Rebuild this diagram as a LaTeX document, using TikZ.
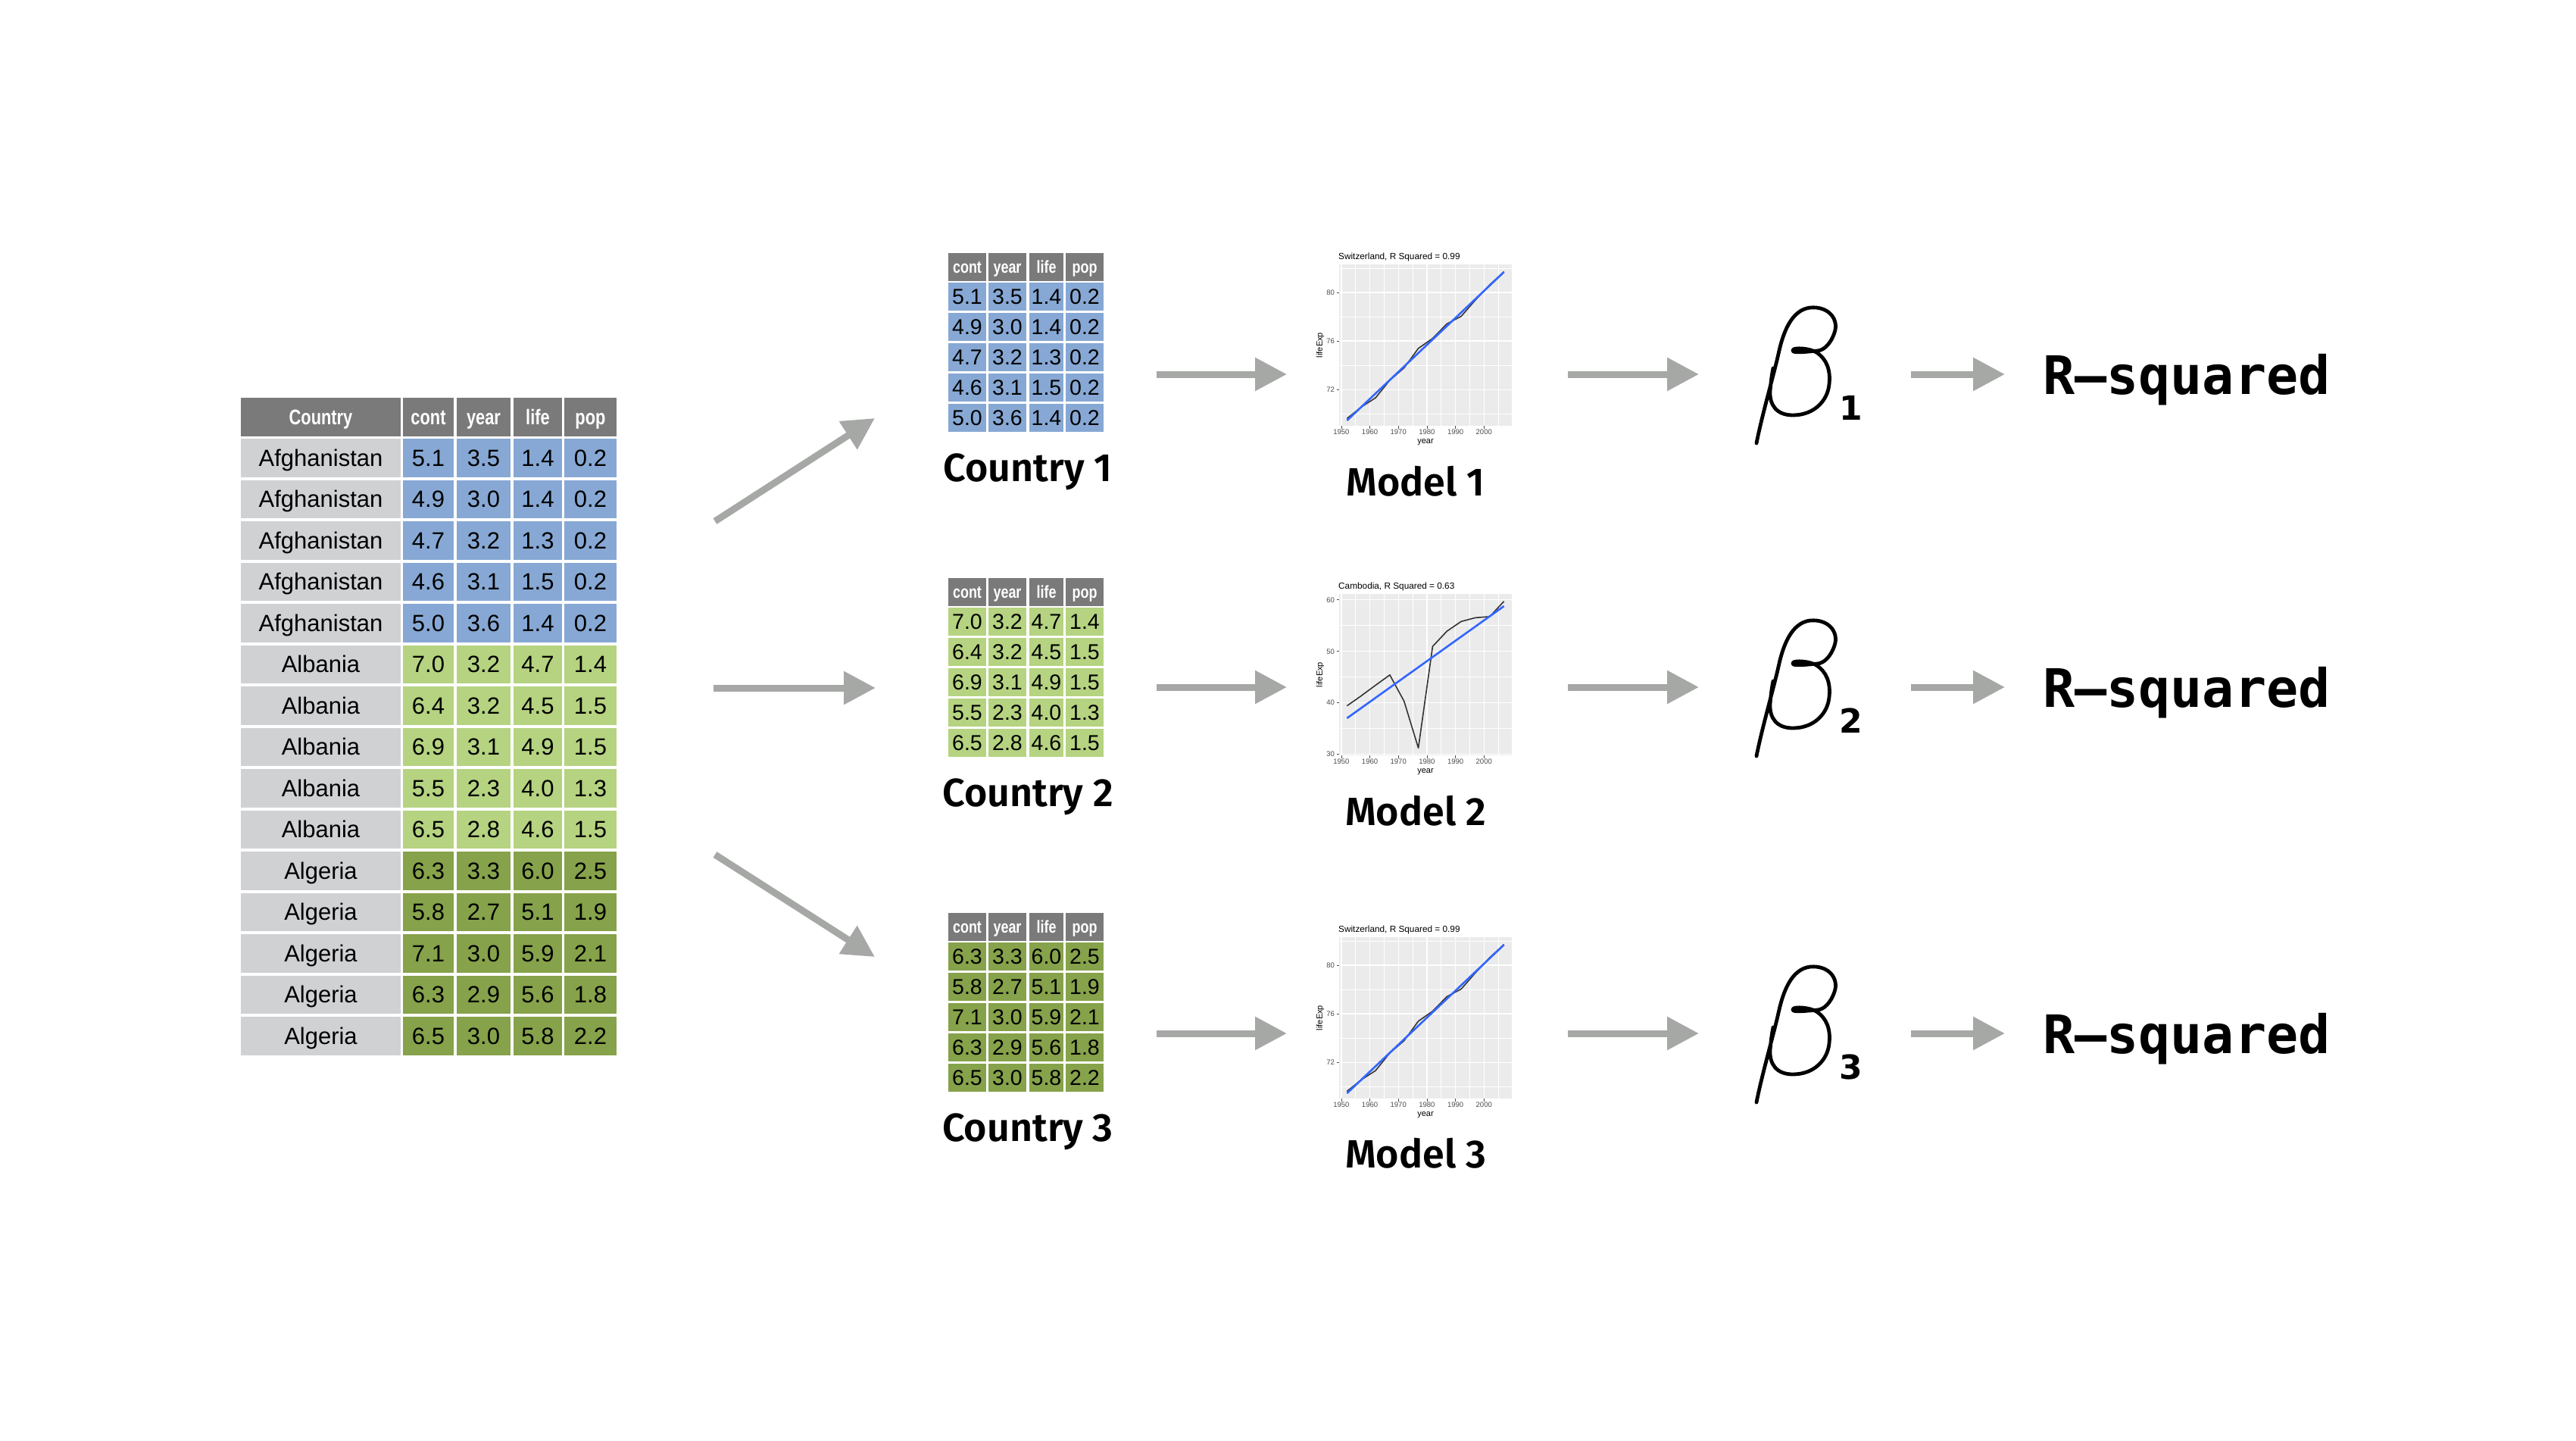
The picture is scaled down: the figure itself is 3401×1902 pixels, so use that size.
\documentclass[tikz,border=0pt]{standalone}
\usepackage{fontspec}
\setmainfont{Liberation Sans}
\newfontfamily\hdrfont[FakeStretch=0.78]{Liberation Sans}
\IfFontExistsTF{Fira Sans SemiBold}
  {\newfontfamily\labfont{Fira Sans SemiBold}}
  {\newfontfamily\labfontbase{Fira Sans}\newcommand\labfont{\labfontbase\bfseries}}
\newfontfamily\monofont{DejaVu Sans Mono}
\newfontfamily\subfont{DejaVu Sans}
\usetikzlibrary{arrows.meta}

\definecolor{hdrgray}{RGB}{122,122,122}
\definecolor{namegray}{RGB}{208,209,211}
\definecolor{cblue}{RGB}{135,168,212}
\definecolor{clgreen}{RGB}{181,211,128}
\definecolor{cdgreen}{RGB}{134,162,74}
\definecolor{arrowgray}{RGB}{166,168,166}
\definecolor{panelbg}{RGB}{235,235,235}
\definecolor{fitblue}{RGB}{51,102,255}
\definecolor{ticktext}{RGB}{77,77,77}

\newcommand\setfs[1]{\fontsize{#1pt}{#1pt}\selectfont}

\tikzset{
  bighdr/.style={fill=hdrgray, text=white, inner sep=0pt, minimum height=51pt,
    text height=20pt, text depth=0pt, font=\hdrfont\bfseries\setfs{28}},
  namecell/.style={fill=namegray, inner sep=0pt, minimum width=211pt, minimum height=50.5pt,
    text height=22pt, text depth=0pt, font=\setfs{31}},
  bigcell/.style={inner sep=0pt, minimum height=50.5pt,
    text height=22pt, text depth=0pt, font=\setfs{31}},
  smallhdr/.style={fill=hdrgray, text=white, inner sep=0pt, minimum height=37pt,
    text height=16pt, text depth=0pt, font=\hdrfont\bfseries\setfs{23}},
  smallcell/.style={inner sep=0pt, minimum height=37pt,
    text height=20.4pt, text depth=0pt, font=\setfs{28.5}},
  steplabel/.style={anchor=base, inner sep=0pt, font=\labfont\setfs{52}},
  bigarrow/.style={draw=arrowgray, line width=9pt, -{Triangle[length=42pt,width=42pt]}},
  majorgrid/.style={draw=white, line width=1.3pt},
  minorgrid/.style={draw=white, line width=0.6pt},
  axtick/.style={draw=ticktext, line width=0.6pt},
  ticklab/.style={inner sep=0pt, text=ticktext, font=\setfs{9.5}},
  axtitle/.style={inner sep=0pt, font=\setfs{11}},
  plottitle/.style={inner sep=0pt, anchor=base west, font=\setfs{11.8}},
  dataline/.style={draw=black!80, line width=1.6pt, line join=round},
  fitline/.style={draw=fitblue, line width=2.6pt},
  betastroke/.style={draw=black, line width=4.8pt, line cap=round, line join=round},
  rsq/.style={anchor=base west, inner sep=0pt, font=\monofont\bfseries\setfs{70}},
  subnum/.style={anchor=base west, inner sep=0pt, font=\subfont\bfseries\setfs{44}}
}

% one country table: #1 top edge, #2 fill colour, #3 rows, #4 name prefix, #5 caption
\newcommand\smalltab[5]{%
  \node[smallhdr, minimum width=50pt] (#4h1) at (1277,#1+18.5) {cont};
  \node[smallhdr, minimum width=50pt] (#4h2) at (1330,#1+18.5) {year};
  \node[smallhdr, minimum width=45pt] (#4h3) at (1381.5,#1+18.5) {life};
  \node[smallhdr, minimum width=50pt] (#4h4) at (1432,#1+18.5) {pop};
  \foreach \a/\b/\c/\d [count=\i] in {#3} {
    \pgfmathsetmacro{\yc}{#1+57.5+40*(\i-1)}
    \node[smallcell, fill=#2, minimum width=50pt] (#4r\i-a) at (1277,\yc) {\a};
    \node[smallcell, fill=#2, minimum width=50pt] (#4r\i-b) at (1330,\yc) {\b};
    \node[smallcell, fill=#2, minimum width=45pt] (#4r\i-c) at (1381.5,\yc) {\c};
    \node[smallcell, fill=#2, minimum width=50pt] (#4r\i-d) at (1432,\yc) {\d};
  }
  \node[steplabel] (#4cap) at (1357,#1+301) {#5};
}

% one ggplot-style panel: #1 top, #2 ymin, #3 ymax, #4 y unit, #5 major y, #6 minor y,
% #7 name prefix, #8 title, #9 curves drawn in data coordinates
\newcommand\gplot[9]{%
  \node[plottitle] (#7title) at (1767,#1-7) {#8};
  \node[axtitle, rotate=90] (#7ylab) at (1743,#1+106.5) {lifeExp};
  \node[axtitle] (#7xlab) at (1882,#1+235) {year};
  \begin{scope}[shift={(1768,#1+213)}, x=3.7686pt, y=#4pt]
  \begin{scope}[shift={(-1949.25,-#2)}]
    \fill[panelbg] (1949.25,#2) rectangle (2009.75,#3);
    \foreach \g in {1955,1965,...,2005} \draw[minorgrid] (\g,#2) -- (\g,#3);
    \foreach \g in {#6} \draw[minorgrid] (1949.25,\g) -- (2009.75,\g);
    \foreach \g in {1950,1960,...,2000} {
      \draw[majorgrid] (\g,#2) -- (\g,#3);
      \draw[axtick] (\g,#2) -- ++(0pt,-3.5pt);
      \node[ticklab, anchor=north] (#7x\g) at ([yshift=-5pt]\g,#2) {\g};
    }
    \foreach \g in {#5} {
      \draw[majorgrid] (1949.25,\g) -- (2009.75,\g);
      \draw[axtick] (1949.25,\g) -- ++(-3.5pt,0pt);
      \node[ticklab, anchor=east] (#7y\g) at ([xshift=-6pt]1949.25,\g) {\g};
    }
    #9
  \end{scope}
  \end{scope}
}

% handwritten beta with its subscript, placed around (#1,#2)
\newcommand\betasym[3]{%
  \begin{scope}[shift={(#1,#2)}]
    \draw[betastroke] (-51,91) .. controls (-44,55) and (-28,0) .. (-22,-27)
      .. controls (-16,-55) and (-5,-85) .. (20,-88)
      .. controls (45,-90) and (58,-72) .. (52,-55)
      .. controls (47,-40) and (38,-32) .. (30,-31)
      .. controls (15,-30) and (-5,-27) .. (-3,-32)
      .. controls (-1,-36) and (20,-34) .. (28,-29)
      .. controls (42,-20) and (47,-5) .. (45,13)
      .. controls (43,35) and (25,54) .. (-3,54)
      .. controls (-25,54) and (-34,40) .. (-33,22)
      .. controls (-32,10) and (-31,2) .. (-29,-8);
    \node[subnum] (beta#3) at (58,60) {#3};
  \end{scope}
}

\begin{document}
\begin{tikzpicture}[x=1pt, y=-1pt]
\useasboundingbox (0,0) rectangle (3401,1902);
\fill[white] (0,0) rectangle (3401,1902);

% ---- full data table ----
\node[bighdr, minimum width=211pt] (bh0) at (423.5,550.5) {Country};
\node[bighdr, minimum width=67pt] (bh1) at (565.5,550.5) {cont};
\node[bighdr, minimum width=71pt] (bh2) at (638.5,550.5) {year};
\node[bighdr, minimum width=64pt] (bh3) at (710,550.5) {life};
\node[bighdr, minimum width=69pt] (bh4) at (779.5,550.5) {pop};
\foreach \nm/\a/\b/\c/\d/\clr [count=\i] in {
  Afghanistan/5.1/3.5/1.4/0.2/cblue, Afghanistan/4.9/3.0/1.4/0.2/cblue,
  Afghanistan/4.7/3.2/1.3/0.2/cblue, Afghanistan/4.6/3.1/1.5/0.2/cblue,
  Afghanistan/5.0/3.6/1.4/0.2/cblue,
  Albania/7.0/3.2/4.7/1.4/clgreen, Albania/6.4/3.2/4.5/1.5/clgreen,
  Albania/6.9/3.1/4.9/1.5/clgreen, Albania/5.5/2.3/4.0/1.3/clgreen,
  Albania/6.5/2.8/4.6/1.5/clgreen,
  Algeria/6.3/3.3/6.0/2.5/cdgreen, Algeria/5.8/2.7/5.1/1.9/cdgreen,
  Algeria/7.1/3.0/5.9/2.1/cdgreen, Algeria/6.3/2.9/5.6/1.8/cdgreen,
  Algeria/6.5/3.0/5.8/2.2/cdgreen} {
  \pgfmathsetmacro{\yc}{579+54.5*(\i-1)+25.25}
  \node[namecell] (bn\i) at (423.5,\yc) {\nm};
  \node[bigcell, fill=\clr, minimum width=67pt] (ba\i) at (565.5,\yc) {\a};
  \node[bigcell, fill=\clr, minimum width=71pt] (bb\i) at (638.5,\yc) {\b};
  \node[bigcell, fill=\clr, minimum width=64pt] (bc\i) at (710,\yc) {\c};
  \node[bigcell, fill=\clr, minimum width=69pt] (bd\i) at (779.5,\yc) {\d};
}

% ---- split arrows ----
\coordinate (sp1s) at (944,688);  \coordinate (sp1e) at (1155,552);
\coordinate (sp2s) at (942,908);  \coordinate (sp2e) at (1156,908);
\coordinate (sp3s) at (944,1128); \coordinate (sp3e) at (1155,1263);
\draw[bigarrow] (sp1s) -- (sp1e);
\draw[bigarrow] (sp2s) -- (sp2e);
\draw[bigarrow] (sp3s) -- (sp3e);

% ---- per-country tables ----
\smalltab{334}{cblue}{5.1/3.5/1.4/0.2, 4.9/3.0/1.4/0.2, 4.7/3.2/1.3/0.2, 4.6/3.1/1.5/0.2, 5.0/3.6/1.4/0.2}{ta}{Country 1}
\smalltab{763}{clgreen}{7.0/3.2/4.7/1.4, 6.4/3.2/4.5/1.5, 6.9/3.1/4.9/1.5, 5.5/2.3/4.0/1.3, 6.5/2.8/4.6/1.5}{tb}{Country 2}
\smalltab{1205}{cdgreen}{6.3/3.3/6.0/2.5, 5.8/2.7/5.1/1.9, 7.1/3.0/5.9/2.1, 6.3/2.9/5.6/1.8, 6.5/3.0/5.8/2.2}{tc}{Country 3}

% ---- model plots ----
\gplot{349}{69.02}{82.30}{16.039}{72,76,80}{70,74,78,82}{pa}{Switzerland, R Squared = 0.99}{%
  \draw[dataline] plot coordinates {(1952,69.62) (1957,70.56) (1962,71.32) (1967,72.77)
    (1972,73.78) (1977,75.39) (1982,76.21) (1987,77.41) (1992,78.03) (1997,79.37)
    (2002,80.62) (2007,81.70)};
  \draw[fitline] (1952,69.455) -- (2007,81.675);}
\gplot{784}{29.795}{61.148}{6.794}{30,40,50,60}{35,45,55}{pb}{Cambodia, R Squared = 0.63}{%
  \draw[dataline] plot coordinates {(1952,39.417) (1957,41.366) (1962,43.415) (1967,45.415)
    (1972,40.317) (1977,31.220) (1982,50.957) (1987,53.914) (1992,55.803) (1997,56.534)
    (2002,56.752) (2007,59.723)};
  \draw[fitline] (1952,37.016) -- (2007,58.79);}
\gplot{1237}{69.02}{82.30}{16.039}{72,76,80}{70,74,78,82}{pc}{Switzerland, R Squared = 0.99}{%
  \draw[dataline] plot coordinates {(1952,69.62) (1957,70.56) (1962,71.32) (1967,72.77)
    (1972,73.78) (1977,75.39) (1982,76.21) (1987,77.41) (1992,78.03) (1997,79.37)
    (2002,80.62) (2007,81.70)};
  \draw[fitline] (1952,69.455) -- (2007,81.675);}

\node[steplabel] (ma) at (1869,654) {Model 1};
\node[steplabel] (mb) at (1869,1089) {Model 2};
\node[steplabel] (mc) at (1869,1541) {Model 3};

% ---- arrows along each row ----
\foreach \r/\y in {1/494, 2/907, 3/1364} {
  \coordinate (fa\r s) at (1527,\y); \coordinate (fa\r e) at (1699,\y);
  \coordinate (fb\r s) at (2070,\y); \coordinate (fb\r e) at (2243,\y);
  \coordinate (fc\r s) at (2523,\y); \coordinate (fc\r e) at (2647,\y);
  \draw[bigarrow] (fa\r s) -- (fa\r e);
  \draw[bigarrow] (fb\r s) -- (fb\r e);
  \draw[bigarrow] (fc\r s) -- (fc\r e);
  \node[rsq] (rs\r) at (2697,\y+26) {R–squared};
}

% ---- coefficients ----
\betasym{2370}{494}{1}
\betasym{2370}{907}{2}
\betasym{2370}{1364}{3}
\end{tikzpicture}
\end{document}
